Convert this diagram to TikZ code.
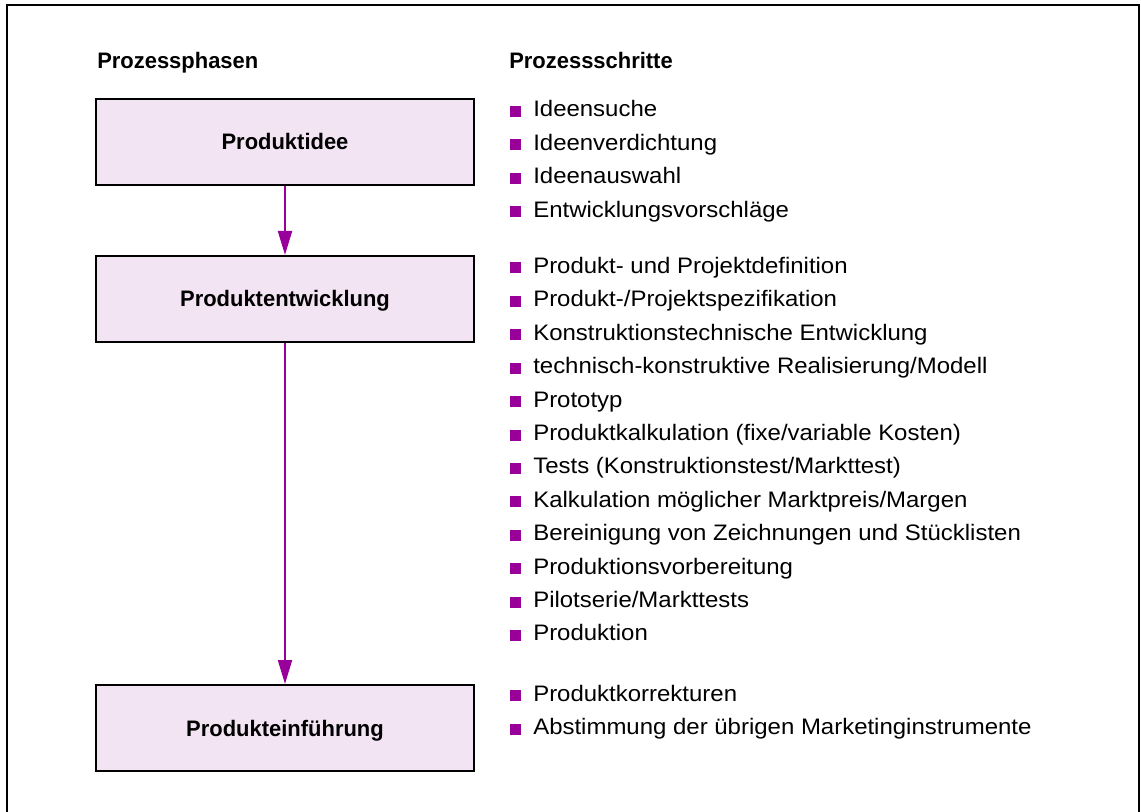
\documentclass[tikz,border=0pt]{standalone}
\usepackage{fontspec}
\setmainfont{Liberation Sans}[FakeStretch=1.07, BoldFeatures={FakeStretch=0.98}]
\usepackage{xcolor}
\usetikzlibrary{arrows.meta,positioning}
\definecolor{flowpurple}{RGB}{153,0,153}
\definecolor{phasefill}{RGB}{243,228,243}
\newcommand{\diagfont}{\fontsize{16.8pt}{20pt}\selectfont}
\newcommand{\sqbullet}{\textcolor{flowpurple}{\rule{8.25pt}{8.25pt}}\hspace{9pt}}
\tikzset{
  phase/.style   = {draw, line width=1.5pt, fill=phasefill, minimum width=283.5pt,
                    minimum height=64.5pt, font=\diagfont\bfseries,
                    text height=12pt, text depth=0pt},
  head/.style    = {anchor=base west, inner sep=0pt, font=\diagfont\bfseries},
  stepitem/.style= {anchor=base west, inner sep=0pt, font=\diagfont},
  flow/.style    = {-{Triangle[length=18pt,width=10.5pt]}, draw=flowpurple, line width=1.5pt},
}

\begin{document}
\begin{tikzpicture}[x=0.75pt,y=-0.75pt]
\useasboundingbox (0,0) rectangle (1141,812);
\clip (0,0) rectangle (1141,812);
% frame, open at the bottom
\draw[line width=1.5pt] (6.5,830) -- (6.5,5.5) -- (1139,5.5) -- (1139,830);

\node[head] (hphase) at (97,69) {Prozessphasen};
\node[head] (hstep) at (509,69) {Prozessschritte};

% phases
\node[phase] (idee) at (285,142) {Produktidee};
\node[phase] (entw) at (285,299) {Produktentwicklung};
\node[phase] (einf) at (285,728) {Produkteinführung};
\draw[flow] (idee) -- (entw);
\draw[flow] (entw) -- (einf);

% steps per phase
\foreach \txt [count=\i] in {Ideensuche, Ideenverdichtung, Ideenauswahl,
    Entwicklungsvorschläge}
  \node[stepitem] (a\i) at (510,117+33.4*\i-33.4) {\sqbullet\txt};
\foreach \txt [count=\i] in {Produkt- und Projektdefinition,
    Produkt-/Projektspezifikation, Konstruktionstechnische Entwicklung,
    technisch-konstruktive Realisierung/Modell, Prototyp,
    Produktkalkulation (fixe/variable Kosten),
    Tests (Konstruktionstest/Markttest),
    Kalkulation möglicher Marktpreis/Margen,
    Bereinigung von Zeichnungen und Stücklisten,
    Produktionsvorbereitung, Pilotserie/Markttests, Produktion}
  \node[stepitem] (b\i) at (510,273.5+33.4*\i-33.4) {\sqbullet\txt};
\foreach \txt [count=\i] in {Produktkorrekturen,
    Abstimmung der übrigen Marketinginstrumente}
  \node[stepitem] (c\i) at (510,701+33.5*\i-33.5) {\sqbullet\txt};
\end{tikzpicture}
\end{document}
